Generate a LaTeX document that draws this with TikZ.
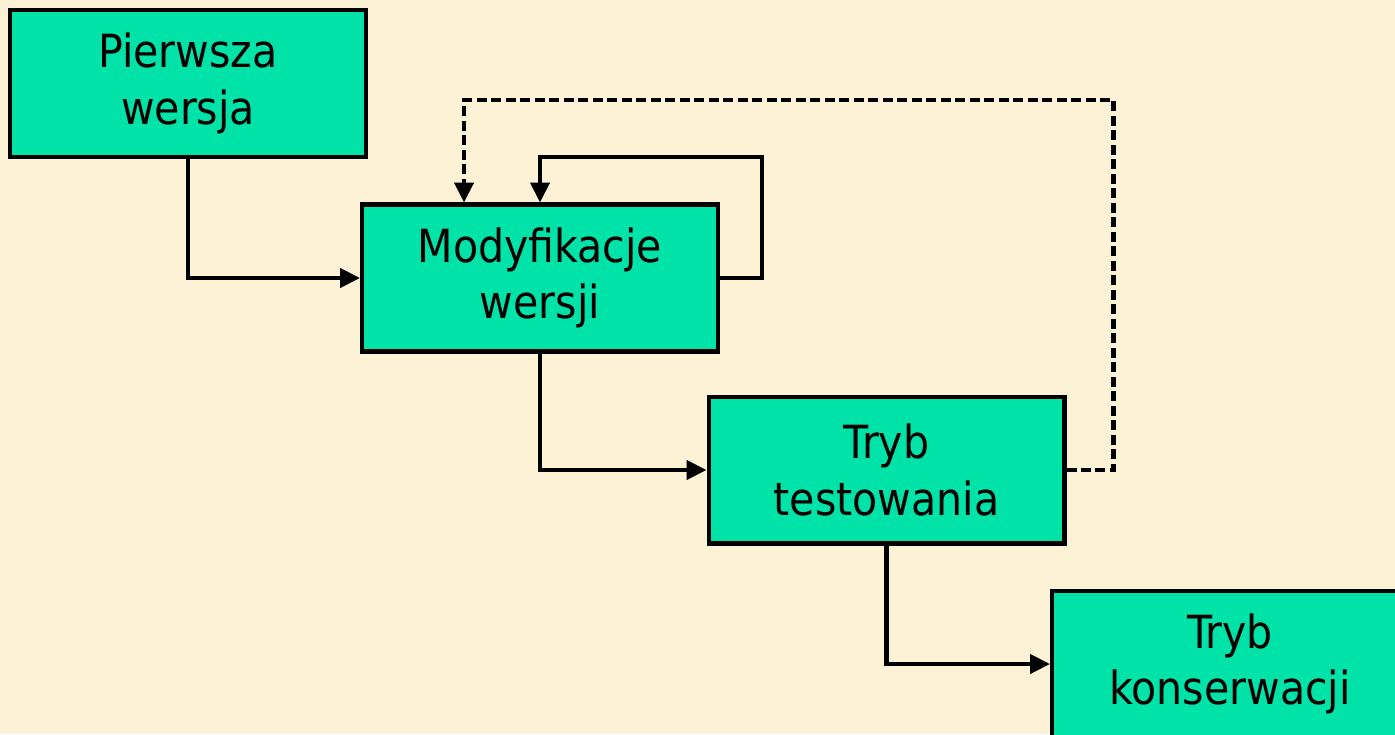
\documentclass[tikz,border=0pt]{standalone}
\usepackage{fontspec}
\setmainfont{DejaVu Sans Condensed}
\usetikzlibrary{arrows.meta}
\definecolor{paper}{HTML}{FDF1D6}
\definecolor{boxfill}{HTML}{00E3A8}

\begin{document}
\begin{tikzpicture}[x=0.02cm, y=-0.02cm,
    stage/.style={draw, line width=2.3pt, fill=boxfill, minimum width=7.12cm, minimum height=2.94cm,
        align=center, inner sep=0pt, font=\fontsize{26}{32}\selectfont},
    conn/.style={line width=2.4pt, -{Triangle[length=0.4cm, width=0.38cm]}}]
    \fill[paper] (0,0) rectangle (1395,734);
    \useasboundingbox (0,0) rectangle (1395,734);
    \node[stage] (pw) at (188,83.5) {Pierwsza\\wersja};
    \node[stage] (mw) at (540,278) {Modyfikacje\\wersji};
    \node[stage] (tt) at (886.5,470) {Tryb\\testowania};
    \node[stage] (tk) at (1230,664) {Tryb\\konserwacji};
    \draw[conn] (pw.south) |- (mw.west);
    \draw[conn] (mw.east) -- ++(42,0) -- ++(0,-121) -| (mw.north);
    \draw[conn] (mw.south) |- (tt.west);
    \draw[conn] (tt.south) |- (tk.west);
    % powrot z testow do modyfikacji
    \draw[conn, dash pattern=on 0.2cm off 0.09cm] (tt.east) -- ++(47,0) -- ++(0,-370) -| ([xshift=-1.52cm]mw.north);
\end{tikzpicture}
\end{document}
